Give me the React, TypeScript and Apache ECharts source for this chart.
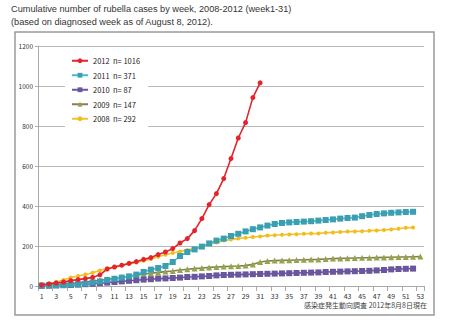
import React, { useEffect, useRef } from "react";
import * as echarts from "echarts";

const weeks: string[] = Array.from({ length: 53 }, (_, i) => String(i + 1));
const yTicks = [0, 200, 400, 600, 800, 1000, 1200];

const seriesNames = ["2012", "2011", "2010", "2009", "2008"];
const seriesTotals = [1016, 371, 87, 147, 292];

const cases2012 = [5, 10, 15, 20, 27, 32, 37, 43, 56, 85, 95, 104, 113, 122, 133, 142, 157, 170, 187, 215, 237, 277, 337, 407, 462, 537, 637, 740, 817, 942, 1016];
const cases2011 = [2, 3, 4, 5, 7, 9, 12, 18, 23, 30, 36, 42, 48, 57, 70, 82, 90, 100, 120, 150, 170, 183, 197, 213, 227, 237, 250, 261, 273, 284, 293, 302, 310, 315, 318, 320, 322, 324, 327, 330, 333, 337, 340, 342, 349, 355, 360, 363, 366, 368, 370, 371];
const cases2010 = [1, 2, 3, 4, 5, 7, 9, 11, 14, 17, 20, 23, 26, 29, 32, 34, 37, 38, 40, 42, 45, 46, 48, 50, 53, 55, 56, 57, 58, 59, 60, 61, 62, 63, 64, 65, 66, 67, 68, 70, 71, 72, 73, 74, 75, 76, 78, 80, 83, 85, 86, 87];
const cases2009 = [2, 4, 6, 9, 12, 16, 20, 24, 29, 34, 39, 44, 49, 54, 60, 64, 68, 72, 75, 80, 84, 87, 90, 93, 95, 97, 99, 100, 102, 108, 120, 125, 127, 128, 129, 130, 131, 132, 133, 135, 137, 138, 139, 140, 141, 141, 142, 143, 144, 145, 145, 146, 147];
const cases2008 = [4, 12, 20, 30, 42, 50, 57, 66, 78, 88, 95, 102, 110, 118, 126, 135, 146, 156, 165, 173, 180, 188, 197, 207, 218, 227, 233, 237, 241, 245, 248, 252, 254, 256, 258, 259, 261, 262, 263, 266, 268, 270, 272, 273, 274, 276, 278, 280, 283, 286, 291, 292];

const titleLines = [
  "Cumulative number of rubella cases by week, 2008-2012 (week1-31)",
  "(based on diagnosed week as of August 8, 2012).",
];
const footerText = "感染症発生動向調査 2012年8月8日現在";

export default function App() {
  const ref = useRef<HTMLDivElement>(null);
  useEffect(() => {
    document.body.style.margin = "0";
    const chart = echarts.init(ref.current!, null, { renderer: "svg" });
    const font = "'Noto Sans CJK JP', 'Noto Sans', sans-serif";
    const titleFont = "'Liberation Sans', Arial, sans-serif";
    const label = (i: number) => `${seriesNames[i]}  n= ${seriesTotals[i]}`;
    const mk = (i: number, data: number[], color: string, lineColor: string, symbol: string, size: number) => ({
      name: label(i),
      type: "line",
      data,
      symbol,
      symbolSize: size,
      showSymbol: true,
      showAllSymbol: true,
      lineStyle: { color: lineColor, width: 1.6 },
      itemStyle: { color },
      z: 10 - i,
    });
    chart.setOption({
      animation: false,
      textStyle: { fontFamily: font },
      graphic: [
        {
          type: "text",
          left: 11,
          top: 4,
          style: { text: titleLines[0], fontSize: 9.2, fill: "#333", fontFamily: titleFont },
        },
        {
          type: "text",
          left: 11,
          top: 17,
          style: { text: titleLines[1], fontSize: 9.2, fill: "#333", fontFamily: titleFont },
        },
        {
          type: "rect",
          shape: { x: 15, y: 32, width: 419, height: 283 },
          style: { fill: "none", stroke: "#9a9a9a", lineWidth: 1.5 },
          z: -1,
        },
        {
          type: "text",
          right: 23,
          top: 301,
          style: { text: footerText, fontSize: 7, fill: "#444", fontFamily: font },
        },
      ],
      legend: {
        orient: "vertical",
        left: 65,
        top: 52,
        backgroundColor: "#ffffff",
        padding: [5, 8, 5, 6],
        itemWidth: 16,
        itemHeight: 6,
        itemGap: 7,
        data: [0, 1, 2, 3, 4].map(label),
        textStyle: { fontSize: 7.5, color: "#222", fontFamily: font },
        z: 20,
      },
      grid: { left: 38, right: 26, top: 46, bottom: 37, containLabel: false },
      xAxis: {
        type: "category",
        data: weeks,
        boundaryGap: true,
        axisLine: { lineStyle: { color: "#aaaaaa", width: 1 } },
        axisTick: { show: true, interval: 1, length: 5, lineStyle: { color: "#aaaaaa" } },
        axisLabel: { interval: 1, fontSize: 7, color: "#333", margin: 6 },
        splitLine: { show: false },
      },
      yAxis: {
        type: "value",
        min: yTicks[0],
        max: yTicks[yTicks.length - 1],
        interval: 200,
        axisLine: { show: true, lineStyle: { color: "#aaaaaa", width: 1 } },
        axisTick: { show: true, length: 3, lineStyle: { color: "#aaaaaa" } },
        axisLabel: { fontSize: 6.5, color: "#333", margin: 5, formatter: (v: number) => String(v) },
        splitLine: { lineStyle: { color: "#b8b8b8", width: 1 } },
      },
      series: [
        mk(4, cases2008, "#f2bd1c", "#f2c12e", "circle", 4),
        mk(3, cases2009, "#93a54a", "#8c7a55", "triangle", 6),
        mk(2, cases2010, "#6a569c", "#6a569c", "rect", 6),
        mk(1, cases2011, "#3a9fb0", "#47bccb", "rect", 6),
        mk(0, cases2012, "#e3242b", "#e3242b", "circle", 5),
      ],
    });
    return () => chart.dispose();
  }, []);
  return <div ref={ref} style={{ width: 450, height: 323 }} />;
}
